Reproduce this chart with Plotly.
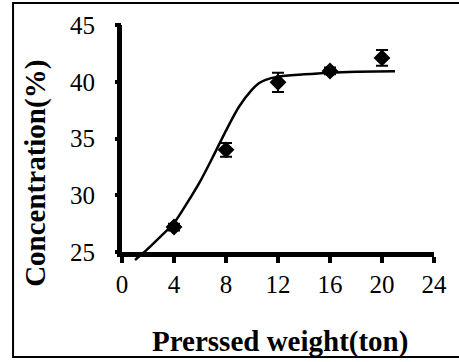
import plotly.graph_objects as go

# measured points
x_pts = [4, 8, 12, 16, 20]
y_pts = [27.2, 34.0, 39.95, 40.95, 42.1]
y_err = [0.3, 0.6, 0.85, 0.3, 0.7]

# fitted curve
x_fit = [1.0, 2, 3, 4, 5, 6, 7, 8, 9, 10, 10.5, 11, 12, 14, 16, 18, 21]
y_fit = [24.3, 25.3, 26.4, 27.55, 29.3, 31.2, 33.4, 35.7, 37.8, 39.3, 39.85, 40.15, 40.45, 40.65, 40.8, 40.88, 40.92]

x_ticks = [0, 4, 8, 12, 16, 20, 24]
y_ticks = [25, 30, 35, 40, 45]

W, H = 459, 362
L, R, T, B = 122, 22, 25, 100
ph = H - T - B
pw = W - L - R
axis_bottom_px = 252
delta = (H - B - axis_bottom_px) / ph
y0, y1 = 25, 45
y2_low = y0 - (H - B - axis_bottom_px) / (axis_bottom_px - T) * (y1 - y0)

FONT = "Liberation Serif"
TICK_SIZE = 25
TITLE_SIZE = 29

fig = go.Figure()
fig.add_trace(go.Scatter(
    x=x_pts, y=y_pts, mode="markers",
    marker=dict(symbol="diamond", size=13, color="black"),
    error_y=dict(type="data", array=y_err, color="black", thickness=2, width=6),
    xaxis="x", yaxis="y", showlegend=False,
))
fig.add_trace(go.Scatter(
    x=x_fit, y=y_fit, mode="lines", line=dict(color="black", width=2.5, shape="spline", smoothing=0.8),
    xaxis="x", yaxis="y2", showlegend=False,
))
# helper trace so the visible-tick overlay axis gets drawn
fig.add_trace(go.Scatter(x=[None], y=[None], mode="markers", xaxis="x", yaxis="y3",
                         showlegend=False, hoverinfo="skip"))

fig.update_layout(
    width=W, height=H,
    margin=dict(l=L, r=R, t=T, b=B),
    paper_bgcolor="white", plot_bgcolor="rgba(0,0,0,0)",
    font=dict(family=FONT, color="black", size=TICK_SIZE),
    xaxis=dict(range=[0, 24], tickvals=x_ticks, ticks="outside", ticklen=6, tickwidth=4,
               tickcolor="black", showline=True, linewidth=5, linecolor="black",
               showgrid=False, zeroline=False, anchor="y",
               tickfont=dict(size=TICK_SIZE, family=FONT)),
    # labels axis: transparent long ticks push labels away from the axis line
    yaxis=dict(range=[y0, y1], tickvals=y_ticks, ticks="outside", ticklen=17, tickwidth=1,
               tickcolor="rgba(0,0,0,0)", showline=True, linewidth=5, linecolor="black",
               showgrid=False, zeroline=False, domain=[delta, 1], anchor="x",
               tickfont=dict(size=TICK_SIZE, family=FONT)),
    yaxis2=dict(range=[y2_low, y1], domain=[0, 1], anchor="x", visible=False,
                showgrid=False, zeroline=False),
    # visible short ticks
    yaxis3=dict(range=[y0, y1], tickvals=y_ticks, ticks="outside", ticklen=6, tickwidth=4,
                tickcolor="black", showline=False, showticklabels=False, showgrid=False,
                zeroline=False, overlaying="y", anchor="x"),
    annotations=[
        dict(text="<b>Prerssed weight(ton)</b>", xref="paper", yref="paper",
             x=(282 - L) / pw, y=(H - B - 341) / ph, xanchor="center", yanchor="middle",
             showarrow=False, font=dict(size=TITLE_SIZE, family=FONT)),
        dict(text="<b>Concentration(%)</b>", xref="paper", yref="paper",
             x=(35 - L) / pw, y=(H - B - 173) / ph, xanchor="center", yanchor="middle",
             textangle=-90, showarrow=False, font=dict(size=TITLE_SIZE, family=FONT)),
    ],
    shapes=[
        dict(type="rect", xref="paper", yref="paper",
             x0=(12 - L) / pw, x1=(470 - L) / pw,
             y0=(H - B - 357) / ph, y1=(H - B - 3) / ph,
             line=dict(color="black", width=2), layer="below"),
    ],
)

fig.write_html("out.html")
